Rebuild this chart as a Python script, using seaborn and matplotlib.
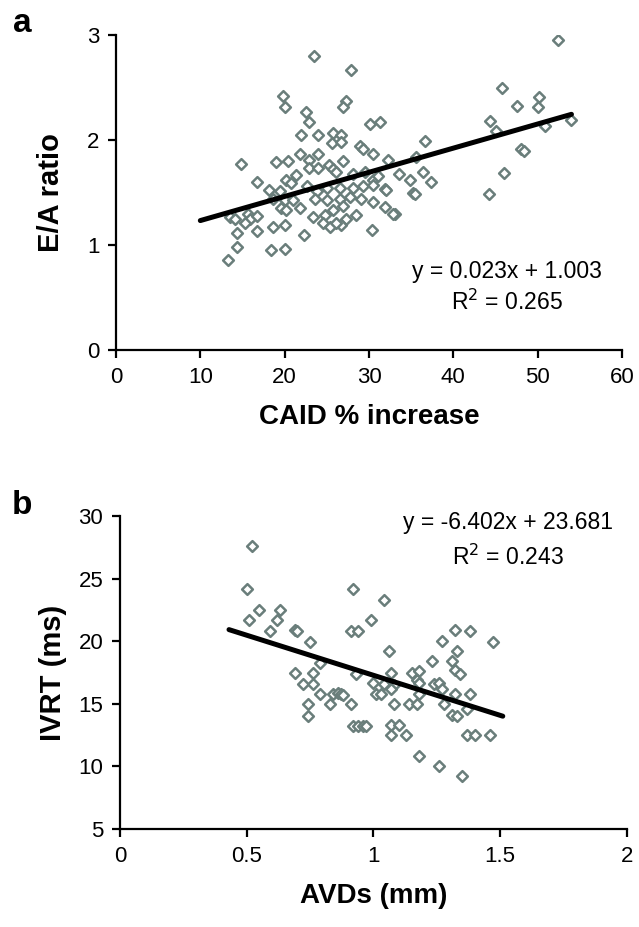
import matplotlib
matplotlib.use("Agg")
import matplotlib.pyplot as plt
import seaborn as sns
import pandas as pd

# Panel a: CAID % increase vs E/A ratio
caid_increase = [23.5, 27.9, 19.8, 20.0, 27.3, 26.9, 22.5, 22.9, 30.1, 31.3,
                 21.9, 23.9, 25.7, 26.7, 25.6, 26.7, 28.9, 29.3, 30.5, 32.3,
                 14.8, 19.0, 20.4, 21.8, 22.9, 24.0, 22.9, 24.0, 25.2, 25.7,
                 26.9, 26.1, 28.1, 29.5, 30.5, 31.1, 33.5, 34.8, 35.6, 36.6,
                 36.4, 37.4, 16.7, 18.2, 19.4, 20.1, 20.8, 21.4, 22.6, 23.8,
                 25.0, 26.5, 28.1, 29.3, 30.5, 31.9, 35.2, 18.6, 20.0, 21.0,
                 23.6, 25.0, 26.5, 27.7, 29.1, 30.5, 31.9, 33.1, 13.5, 14.1,
                 15.7, 15.9, 16.7, 19.6, 20.2, 21.8, 23.4, 24.8, 25.7, 26.9,
                 27.3, 28.5, 24.6, 25.4, 26.7, 15.3, 14.3, 16.7, 18.6, 20.0,
                 22.3, 30.3, 14.3, 18.4, 20.0, 13.3, 52.4, 45.8, 47.5, 50.2,
                 50.0, 44.3, 45.1, 50.9, 53.9, 48.0, 48.4, 46.0, 44.2, 32.0,
                 35.4, 26.1, 32.9]
ea_ratio = [2.80, 2.67, 2.42, 2.31, 2.37, 2.31, 2.27, 2.17, 2.15, 2.17,
            2.05, 2.05, 2.07, 2.05, 1.97, 1.98, 1.94, 1.91, 1.87, 1.81,
            1.77, 1.79, 1.80, 1.87, 1.81, 1.87, 1.73, 1.73, 1.76, 1.72,
            1.80, 1.70, 1.68, 1.70, 1.62, 1.66, 1.68, 1.62, 1.84, 1.99,
            1.70, 1.60, 1.60, 1.52, 1.51, 1.62, 1.59, 1.67, 1.56, 1.51,
            1.54, 1.54, 1.54, 1.56, 1.57, 1.53, 1.50, 1.44, 1.43, 1.43,
            1.44, 1.43, 1.44, 1.46, 1.44, 1.41, 1.36, 1.30, 1.27, 1.25,
            1.30, 1.25, 1.28, 1.35, 1.33, 1.35, 1.27, 1.29, 1.33, 1.37,
            1.25, 1.29, 1.21, 1.17, 1.19, 1.21, 1.11, 1.13, 1.17, 1.19,
            1.10, 1.14, 0.98, 0.95, 0.96, 0.86, 2.95, 2.50, 2.32, 2.41,
            2.31, 2.18, 2.09, 2.13, 2.19, 1.91, 1.90, 1.69, 1.49, 1.52,
            1.49, 1.21, 1.30]

# Panel b: AVDs vs IVRT
avds = [0.52, 0.50, 0.92, 0.55, 0.63, 0.51, 0.62, 0.59, 0.69, 0.70,
        0.91, 0.94, 0.75, 0.79, 0.93, 0.69, 0.76, 0.72, 0.76, 0.79,
        0.84, 0.86, 0.87, 0.83, 0.74, 0.91, 0.74, 0.92, 0.94, 1.04,
        0.99, 1.32, 1.38, 1.47, 1.27, 1.06, 1.33, 1.23, 1.31, 1.32,
        1.34, 1.07, 1.15, 1.18, 1.00, 1.04, 1.08, 1.17, 1.18, 1.24,
        1.26, 1.27, 1.01, 1.03, 1.07, 0.88, 1.18, 1.32, 1.38, 1.08,
        1.14, 1.17, 1.28, 1.31, 1.33, 1.37, 0.96, 0.97, 1.07, 1.10,
        1.07, 1.13, 1.37, 1.40, 1.46, 1.18, 1.26, 1.35]
ivrt = [27.6, 24.2, 24.2, 22.5, 22.5, 21.7, 21.7, 20.8, 20.9, 20.8,
        20.8, 20.8, 19.9, 18.3, 17.4, 17.5, 17.5, 16.6, 16.6, 15.8,
        15.8, 15.9, 15.8, 15.0, 15.0, 15.0, 14.0, 13.2, 13.2, 23.3,
        21.7, 20.9, 20.8, 19.9, 20.0, 19.2, 19.2, 18.4, 18.4, 17.7,
        17.4, 17.5, 17.5, 17.6, 16.7, 16.6, 16.5, 16.9, 16.7, 16.6,
        16.7, 16.2, 15.8, 15.8, 16.2, 15.7, 15.8, 15.8, 15.8, 15.0,
        15.0, 15.0, 15.0, 14.1, 14.0, 14.6, 13.2, 13.2, 13.3, 13.3,
        12.5, 12.5, 12.5, 12.5, 12.5, 10.8, 10.0, 9.2]

# Trend lines (slope, intercept) and the x span they are drawn over
fit_a = [0.023, 1.003]
fit_a_span = [10, 54]
fit_b = [-6.402, 23.681]
fit_b_span = [0.43, 1.51]

sns.set_style("ticks")
plt.rcParams['font.family'] = ['Liberation Sans', 'DejaVu Sans']
# plain black text and axes, like the original figure
for key in ['text.color', 'axes.labelcolor', 'xtick.color', 'ytick.color', 'axes.edgecolor']:
    plt.rcParams[key] = 'black'

marker_color = '#6a7e7b'

fig = plt.figure(figsize=(6.39, 9.27), dpi=100)
ax_a = fig.add_axes([0.1815, 0.6224, 0.792, 0.3398])
ax_b = fig.add_axes([0.1878, 0.1057, 0.7934, 0.3376])


def draw_panel(ax, x, y, fit, span):
    df = pd.DataFrame({'x': x, 'y': y})
    sns.scatterplot(data=df, x='x', y='y', ax=ax, marker='D', s=30,
                    facecolor='white', edgecolor=marker_color, linewidth=1.8,
                    zorder=2)
    line_y = [fit[0] * v + fit[1] for v in span]
    sns.lineplot(x=span, y=line_y, ax=ax, color='black', linewidth=3.6,
                 zorder=3)
    sns.despine(ax=ax)
    for side in ['left', 'bottom']:
        ax.spines[side].set_linewidth(1.6)
    ax.tick_params(axis='both', labelsize=16, length=6, width=1.6,
                   direction='out', pad=6)


# a
draw_panel(ax_a, caid_increase, ea_ratio, fit_a, fit_a_span)
ax_a.set_xlim(0, 60)
ax_a.set_ylim(0, 3)
ax_a.set_xticks([0, 10, 20, 30, 40, 50, 60])
ax_a.set_yticks([0, 1, 2, 3])
ax_a.set_xlabel("CAID % increase", fontsize=20, fontweight='bold', labelpad=12)
ax_a.set_ylabel("E/A ratio", fontsize=21, fontweight='bold', labelpad=16)
ax_a.text(46.4, 0.75, "y = 0.023x + 1.003", fontsize=16.5, ha='center', va='center')
ax_a.text(46.4, 0.45, "R$^2$ = 0.265", fontsize=16.5, ha='center', va='center')

# b
draw_panel(ax_b, avds, ivrt, fit_b, fit_b_span)
ax_b.set_xlim(0, 2)
ax_b.set_ylim(5, 30)
ax_b.set_xticks([0, 0.5, 1, 1.5, 2])
ax_b.set_xticklabels(['0', '0.5', '1', '1.5', '2'])
ax_b.set_yticks([5, 10, 15, 20, 25, 30])
ax_b.set_xlabel("AVDs (mm)", fontsize=20, fontweight='bold', labelpad=12)
ax_b.set_ylabel("IVRT (ms)", fontsize=21, fontweight='bold', labelpad=8)
ax_b.text(1.53, 29.5, "y = -6.402x + 23.681", fontsize=16.5, ha='center', va='center')
ax_b.text(1.53, 26.7, "R$^2$ = 0.243", fontsize=16.5, ha='center', va='center')

# panel letters
fig.text(22 / 639, 1 - 23 / 927, "a", fontsize=24, fontweight='bold', ha='center', va='center')
fig.text(22 / 639, 1 - 505 / 927, "b", fontsize=24, fontweight='bold', ha='center', va='center')

fig.savefig("out.png", dpi=100)
